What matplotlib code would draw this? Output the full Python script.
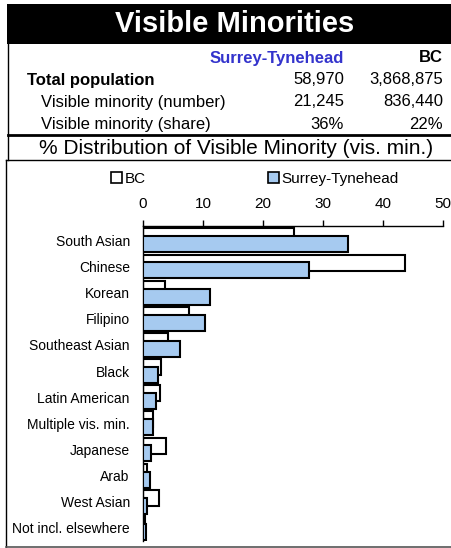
#!/usr/bin/env python3
"""Visible minorities profile: header table plus % distribution bar chart."""

import matplotlib
matplotlib.use('Agg')
import matplotlib.pyplot as plt
from matplotlib.lines import Line2D
from matplotlib.patches import Patch, Rectangle
import numpy as np

plt.rcParams['font.family'] = ['Liberation Sans', 'DejaVu Sans']

# ---- data ----
region = 'Surrey-Tynehead'
row_labels = ['Total population', 'Visible minority (number)', 'Visible minority (share)']
region_vals = ['58,970', '21,245', '36%']
bc_vals = ['3,868,875', '836,440', '22%']

categories = ['South Asian', 'Chinese', 'Korean', 'Filipino', 'Southeast Asian',
              'Black', 'Latin American', 'Multiple vis. min.', 'Japanese', 'Arab',
              'West Asian', 'Not incl. elsewhere']
bc_pct = [25.2, 43.7, 3.7, 7.6, 4.1, 3.0, 2.8, 1.7, 3.9, 0.6, 2.6, 0.4]
region_pct = [34.2, 27.7, 11.2, 10.4, 6.1, 2.5, 2.1, 1.6, 1.4, 1.1, 0.6, 0.45]
x_ticks = [0, 10, 20, 30, 40, 50]

W, H = 452, 548
fig = plt.figure(figsize=(W / 100, H / 100), dpi=100)


def fx(px):
    return px / W


def fy(py):
    return 1 - py / H


def hline(y, x0, x1, lw=1.0, color='black'):
    fig.add_artist(Line2D([fx(x0), fx(x1)], [fy(y), fy(y)], lw=lw, color=color))


def vline(x, y0, y1, lw=1.0, color='black'):
    fig.add_artist(Line2D([fx(x), fx(x)], [fy(y0), fy(y1)], lw=lw, color=color))


# title band
fig.add_artist(Rectangle((fx(7), fy(44)), fx(452) - fx(7), fy(4) - fy(44),
                         facecolor='black', edgecolor='none'))
fig.text(fx(235), fy(24), 'Visible Minorities', color='white', fontsize=21,
         fontweight='bold', ha='center', va='center')

# header table
fig.text(fx(344), fy(58), region, color='#3333CC', fontsize=12, fontweight='bold',
         ha='right', va='center')
fig.text(fx(443), fy(58), 'BC', fontsize=12, fontweight='bold', ha='right', va='center')
row_y = [80, 102, 124]
for i, lab in enumerate(row_labels):
    bold = 'bold' if i == 0 else 'normal'
    x0 = 27 if i == 0 else 41
    fig.text(fx(x0), fy(row_y[i]), lab, fontsize=12, fontweight=bold, ha='left', va='center')
    fig.text(fx(344), fy(row_y[i]), region_vals[i], fontsize=12, ha='right', va='center')
    fig.text(fx(443), fy(row_y[i]), bc_vals[i], fontsize=12, ha='right', va='center')

vline(7.5, 44, 160)
hline(135, 7.5, 452, lw=2.0)
hline(160, 6.5, 452, lw=1.0)
fig.text(fx(236), fy(148), '% Distribution of Visible Minority (vis. min.)',
         fontsize=15, ha='center', va='center')

# chart box
vline(6.5, 160, 547)
hline(547, 6.5, 452, lw=1.2, color='#555555')

# bar chart
ax = fig.add_axes([fx(143), fy(541), fx(443) - fx(143), fy(226) - fy(541)])
y = np.arange(len(categories))
bar_h = 0.61
ax.barh(y - 0.15, bc_pct, height=bar_h, color='white', edgecolor='black', lw=1.5,
        label='BC', zorder=2)
ax.barh(y + 0.15, region_pct, height=bar_h, color='#A6CAF0', edgecolor='black', lw=1.5,
        label=region, zorder=3)

ax.set_xlim(0, 50)
ax.set_ylim(11.5, -0.55)
ax.set_yticks(y)
ax.set_yticklabels(categories, fontsize=10)
ax.tick_params(axis='y', length=0, pad=9.5)
ax.xaxis.tick_top()
ax.set_xticks(x_ticks)
ax.set_xticklabels([str(t) for t in x_ticks], fontsize=11)
ax.tick_params(axis='x', direction='out', length=4, pad=7, width=1)
for s in ['right', 'bottom']:
    ax.spines[s].set_visible(False)
ax.spines['top'].set_linewidth(1)
ax.spines['left'].set_linewidth(1)
ax.patch.set_alpha(0)

handles = [Patch(facecolor='white', edgecolor='black', lw=1.2, label='BC'),
           Patch(facecolor='#A6CAF0', edgecolor='black', lw=1.2, label=region)]
fig.legend(handles=handles, loc='center', bbox_to_anchor=(fx(255), fy(179)), ncol=2,
           frameon=False, fontsize=11, handlelength=0.7, handleheight=0.7,
           handletextpad=0.2, columnspacing=8.0)

fig.savefig('out.png', dpi=100)
